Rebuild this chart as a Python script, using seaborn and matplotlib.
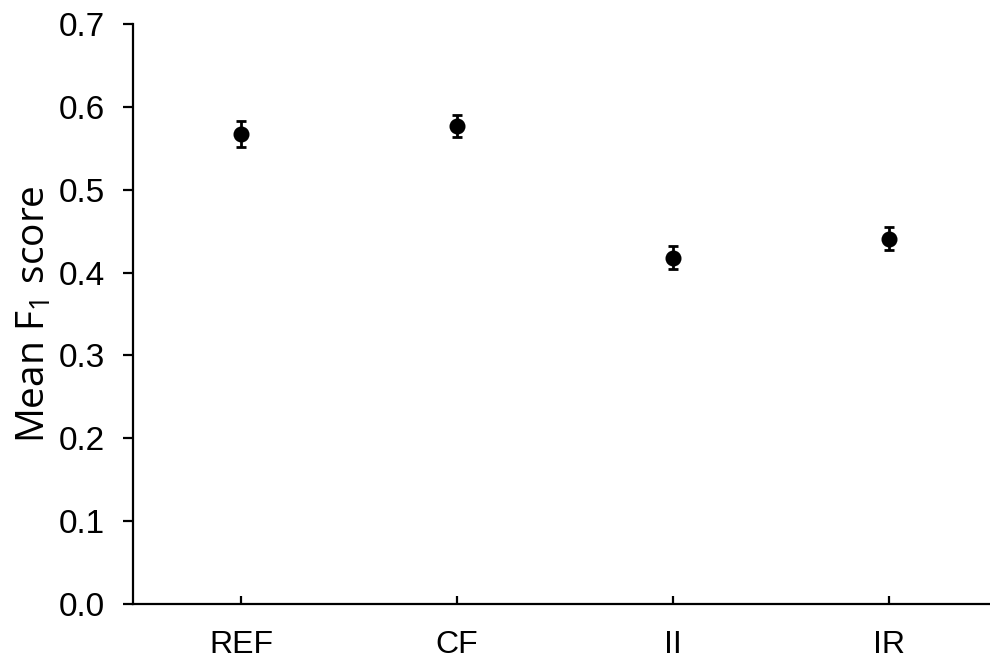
import matplotlib
matplotlib.use("Agg")
import matplotlib.pyplot as plt
import seaborn as sns
import pandas as pd

# values
conditions = ["REF", "CF", "II", "IR"]
mean_f1 = [0.567, 0.577, 0.418, 0.441]
sem_f1 = [0.0155, 0.013, 0.014, 0.014]
y_ticks = [0.0, 0.1, 0.2, 0.3, 0.4, 0.5, 0.6, 0.7]

df = pd.DataFrame({"Condition": conditions, "Mean": mean_f1, "SEM": sem_f1})

sns.set_style("ticks")
plt.rcParams["font.family"] = ["Liberation Sans", "DejaVu Sans"]
plt.rcParams["mathtext.default"] = "regular"

fig = plt.figure(figsize=(9.9, 6.62), dpi=100)
ax = fig.add_axes([133 / 990, 58 / 662, (990 - 133) / 990, 580 / 662])

sns.pointplot(data=df, x="Condition", y="Mean", color="black", markers="o",
              linestyle="none", errorbar=None, markersize=9.5, ax=ax)
ax.errorbar(range(len(df)), df["Mean"], yerr=df["SEM"], fmt="none",
            ecolor="black", elinewidth=2, capsize=3.5, capthick=2)

ax.set_xlim(-0.5, 3.47)
ax.set_ylim(0, 0.7)
ax.set_yticks(y_ticks)
ax.set_yticklabels([f"{v:.1f}" for v in y_ticks])
ax.set_xlabel("")
ax.set_ylabel("Mean F$_1$ score", fontsize=28, color="black",
              family=["Open Sans", "DejaVu Sans"], labelpad=4)

sns.despine(ax=ax)
for side in ["left", "bottom"]:
    ax.spines[side].set_linewidth(1.6)
    ax.spines[side].set_color("black")
ax.tick_params(axis="y", direction="out", length=7, width=1.6, pad=13,
               labelsize=24, colors="black")
ax.tick_params(axis="x", direction="in", length=6, width=1.6, pad=19,
               labelsize=23, colors="black")

fig.savefig("out.png", dpi=100)
